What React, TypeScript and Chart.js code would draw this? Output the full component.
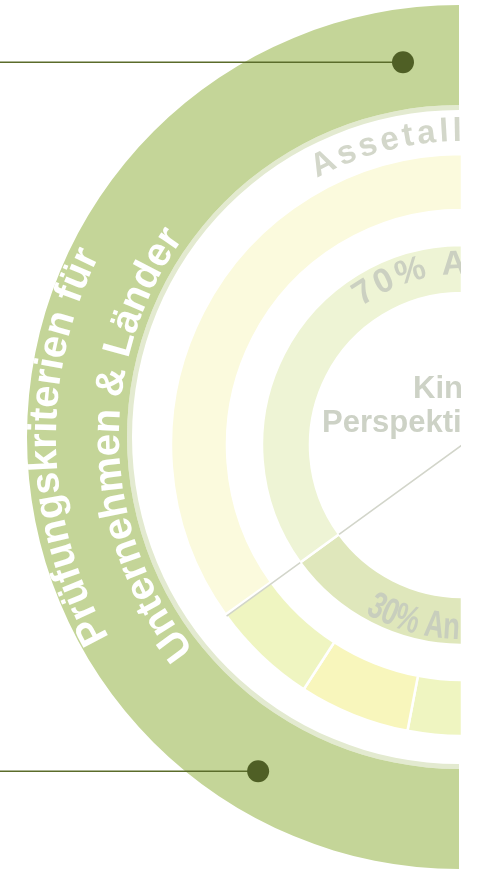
import React, { useEffect, useRef } from "react";
import { Chart, registerables } from "chart.js";

Chart.register(...registerables);

// ---------- data ----------
const outerRingLabels = ["Prüfungskriterien für Unternehmen & Länder"];
const outerRingValues = [100];
const outerTitleLines = ["Prüfungskriterien für", "Unternehmen & Länder"];

const allocationLabels = ["Baustein 3", "Baustein 2", "Baustein 1", "Assetallokation"];
const allocationValues = [6, 12.3, 11.9, 69.8];
const allocationTitle = "Assetallokation";

const assetLabels = ["30% Anleihen", "70% Aktien"];
const assetValues = [30, 70];

const centerLines = ["Kinder-", "Perspektive"];

// ---------- helpers ----------
const FONT = '"Liberation Sans", Arial, sans-serif';

function arcText(
  ctx: CanvasRenderingContext2D,
  text: string,
  cx: number,
  cy: number,
  r: number,
  anchorDeg: number,
  dir: number,
  font: string,
  color: string,
  spacing: number,
  scaleX: number,
  align: "center" | "start"
) {
  ctx.save();
  ctx.font = font;
  ctx.fillStyle = color;
  ctx.textAlign = "center";
  ctx.textBaseline = "alphabetic";
  const chars = Array.from(text);
  const widths = chars.map((c) => ctx.measureText(c).width * scaleX);
  const total = widths.reduce((a, b) => a + b, 0) + spacing * (chars.length - 1);
  let a = (anchorDeg * Math.PI) / 180;
  if (align === "center") a -= (dir * total) / (2 * r);
  chars.forEach((c, i) => {
    const w = widths[i];
    const mid = a + (dir * (w / 2)) / r;
    ctx.save();
    ctx.translate(cx + r * Math.cos(mid), cy + r * Math.sin(mid));
    ctx.rotate(mid + (dir * Math.PI) / 2);
    ctx.scale(scaleX, 1);
    ctx.fillText(c, 0, 0);
    ctx.restore();
    a += (dir * (w + spacing)) / r;
  });
  ctx.restore();
}

const outerDecor = {
  id: "outerDecor",
  afterDatasetsDraw(chart: any) {
    const ctx = chart.ctx as CanvasRenderingContext2D;
    const arc = chart.getDatasetMeta(0).data[0];
    const cx = arc.x;
    const cy = arc.y;
    // curved title
    arcText(ctx, outerTitleLines[0], cx, cy, 403, 178.5, 1, `bold 40px ${FONT}`, "#ffffff", 0, 1, "center");
    arcText(ctx, outerTitleLines[1], cx, cy, 340, 178.5, 1, `bold 40px ${FONT}`, "#ffffff", 0, 1, "center");
    // callouts
    const callouts = [
      { deg: 261.5, r: 379 },
      { deg: 121, r: 390 },
    ];
    callouts.forEach((c) => {
      const a = (c.deg * Math.PI) / 180;
      const x = cx + c.r * Math.cos(a);
      const y = cy + c.r * Math.sin(a);
      ctx.save();
      ctx.strokeStyle = "#5b6c2b";
      ctx.lineWidth = 1.5;
      ctx.beginPath();
      ctx.moveTo(0, y);
      ctx.lineTo(x, y);
      ctx.stroke();
      ctx.fillStyle = "#4f5f25";
      ctx.beginPath();
      ctx.arc(x, y, 11, 0, Math.PI * 2);
      ctx.fill();
      ctx.restore();
    });
  },
};

const innerDecor = {
  id: "innerDecor",
  afterDatasetsDraw(chart: any) {
    const ctx = chart.ctx as CanvasRenderingContext2D;
    const yellowMeta = chart.getDatasetMeta(0);
    const greenMeta = chart.getDatasetMeta(2);
    const g0 = greenMeta.data[0];
    const y0 = yellowMeta.data[0];
    const cx = g0.x;
    const cy = g0.y;
    // divider line along the 30/70 boundary
    const ang = g0.endAngle;
    const seg = (r1: number, r2: number) => {
      ctx.moveTo(cx + r1 * Math.cos(ang), cy + r1 * Math.sin(ang));
      ctx.lineTo(cx + r2 * Math.cos(ang), cy + r2 * Math.sin(ang));
    };
    ctx.save();
    ctx.strokeStyle = "#d2d5ca";
    ctx.lineWidth = 1.5;
    ctx.beginPath();
    seg(0, g0.innerRadius);
    seg(g0.outerRadius, y0.outerRadius);
    ctx.stroke();
    ctx.restore();

    // ring titles
    arcText(ctx, allocationTitle, cx, cy, 304, 241.5, 1, `bold 33px ${FONT}`, "#d3d7ca", 3.5, 1, "start");
    arcText(ctx, assetLabels[1], cx, cy, 171, 234, 1, `bold 34px ${FONT}`, "#cbd0c1", 2.5, 1, "start");
    arcText(ctx, assetLabels[0], cx, cy, 194, 120, -1, `bold 38px ${FONT}`, "#c8cebd", 0, 0.72, "start");

    // center text
    ctx.save();
    ctx.fillStyle = "#cdd2c6";
    ctx.font = `bold 31px ${FONT}`;
    ctx.textAlign = "left";
    ctx.textBaseline = "alphabetic";
    ctx.fillText(centerLines[0], cx - 49, cy - 47);
    ctx.fillText(centerLines[1], cx - 140, cy - 13);
    ctx.restore();
  },
};

export default function App() {
  const outerRef = useRef<HTMLCanvasElement>(null);
  const innerRef = useRef<HTMLCanvasElement>(null);

  useEffect(() => {
    const outer = new Chart(outerRef.current!, {
      type: "doughnut",
      data: {
        labels: outerRingLabels,
        datasets: [
          { data: outerRingValues, backgroundColor: ["#c4d598"], borderWidth: 0, weight: 100 } as any,
          { data: outerRingValues, backgroundColor: ["#e3ead0"], borderWidth: 0, weight: 5 } as any,
        ],
      },
      options: {
        responsive: false,
        animation: false,
        events: [],
        rotation: 180,
        circumference: 180,
        radius: 432,
        cutout: `${(327 / 432) * 100}%`,
        layout: { padding: { left: 25, top: 5, right: 0, bottom: 0 } },
        plugins: { legend: { display: false }, tooltip: { enabled: false } },
      } as any,
      plugins: [outerDecor],
    });

    const inner = new Chart(innerRef.current!, {
      type: "doughnut",
      data: {
        labels: allocationLabels,
        datasets: [
          {
            data: allocationValues,
            backgroundColor: ["#eff5c1", "#f8f6bc", "#eff5c1", "#fbfadd"],
            borderColor: "#ffffff",
            borderWidth: 2.5,
            weight: 56,
          } as any,
          {
            data: [1],
            backgroundColor: ["rgba(0,0,0,0)"],
            borderWidth: 0,
            weight: 35,
          } as any,
          {
            data: assetValues,
            backgroundColor: ["#dfe7bb", "#eef4d5"],
            borderColor: "#ffffff",
            borderWidth: 2.5,
            weight: 48,
          } as any,
        ],
      },
      options: {
        responsive: false,
        animation: false,
        events: [],
        rotation: 180,
        circumference: 180,
        radius: 291,
        cutout: `${(152 / 291) * 100}%`,
        layout: { padding: { left: 172, top: 21, right: 0, bottom: 0 } },
        plugins: { legend: { display: false }, tooltip: { enabled: false } },
      } as any,
      plugins: [innerDecor],
    });

    return () => {
      outer.destroy();
      inner.destroy();
    };
  }, []);

  return (
    <div
      style={{
        position: "fixed",
        left: 0,
        top: 0,
        width: 485,
        height: 869,
        background: "#ffffff",
        overflow: "hidden",
      }}
    >
      <canvas ref={outerRef} width={461} height={869} style={{ position: "absolute", left: 0, top: 0 }} />
      <canvas ref={innerRef} width={461} height={869} style={{ position: "absolute", left: 0, top: 0 }} />
    </div>
  );
}
